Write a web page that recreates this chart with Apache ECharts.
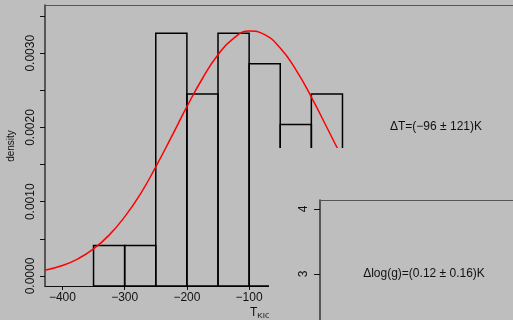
<!DOCTYPE html>
<html>
<head>
<meta charset="utf-8">
<script src="https://cdn.jsdelivr.net/npm/echarts@6/dist/echarts.min.js"></script>
<style>
html, body { margin: 0; padding: 0; background: #bebebe; }
#chart { width: 513px; height: 320px; }
</style>
</head>
<body>
<div id="chart"></div>
<script>
// histogram bins and their densities
const binStart = [-350, -300, -250, -200, -150, -100, -50, 0];
const binEnd = [-300, -250, -200, -150, -100, -50, 0, 50];
const density = [0.00041, 0.00041, 0.00327, 0.00245, 0.00327, 0.00286, 0.00204, 0.00245];

// fitted curve
const curveX = [-428, -400, -375, -350, -325, -300, -275, -250, -225, -200, -175, -150, -125, -100, -75, -50, -25, 0, 25, 50, 75];
const curveY = [0.000077, 0.000141, 0.000231, 0.000364, 0.00055, 0.000796, 0.0011, 0.00147, 0.00187, 0.00228, 0.00266, 0.00298, 0.0032, 0.0033, 0.00325, 0.00307, 0.00278, 0.00241, 0.002, 0.00159, 0.00122];

const xTicks = [-400, -300, -200, -100];
const yTicks = [0, 0.0005, 0.001, 0.0015, 0.002, 0.0025, 0.003, 0.0035];
const yLabels = [0, 0.001, 0.002, 0.003];
const loggTicks = [3, 4];

const font = '"Liberation Sans", Arial, sans-serif';
const bg = '#bebebe';
const yMin = -0.000135;
const lineCol = '#333';
const tickCol = '#111';

const frameOnly = {
  splitLine: { show: false },
  axisLine: { show: true, onZero: false, lineStyle: { color: '#555', width: 1 } },
  axisTick: { show: false },
  axisLabel: { show: false }
};

const chart = echarts.init(document.getElementById('chart'));

chart.setOption({
  backgroundColor: bg,
  animation: false,
  textStyle: { fontFamily: font },
  grid: [
    { left: 45, top: 5, width: 468, height: 281 },
    { left: 320, top: 200, width: 193, height: 120 }
  ],
  xAxis: [
    {
      type: 'value', gridIndex: 0, min: -428, max: 324,
      splitLine: { show: false },
      axisLine: { show: true, onZero: false, lineStyle: { color: tickCol, width: 1 } },
      axisTick: { show: true, customValues: xTicks, length: 4, lineStyle: { color: tickCol } },
      axisLabel: {
        customValues: xTicks, margin: 6, color: '#111', fontSize: 12, fontFamily: font,
        formatter: v => String(v).replace('-', '\u2212')
      }
    },
    Object.assign({ type: 'value', gridIndex: 0, min: 0, max: 1, position: 'top' }, frameOnly),
    Object.assign({ type: 'value', gridIndex: 1, min: 0, max: 1, position: 'top', z: 60 }, frameOnly)
  ],
  yAxis: [
    {
      type: 'value', gridIndex: 0, min: yMin, max: 0.00365,
      splitLine: { show: false },
      axisLine: { show: true, onZero: false, lineStyle: { color: lineCol, width: 1.5 } },
      axisTick: { show: true, customValues: yTicks, length: 5, lineStyle: { color: tickCol } },
      axisLabel: {
        customValues: yLabels, rotate: 90, margin: 8, color: '#111', fontSize: 12, fontFamily: font,
        formatter: v => v.toFixed(4)
      }
    },
    {
      type: 'value', gridIndex: 1, min: 2.2923, max: 4.1385, z: 60,
      splitLine: { show: false },
      axisLine: { show: true, onZero: false, lineStyle: { color: lineCol, width: 1.5 } },
      axisTick: { show: true, customValues: loggTicks, length: 6, lineStyle: { color: tickCol } },
      axisLabel: { customValues: loggTicks, rotate: 90, margin: 10, color: '#111', fontSize: 12, fontFamily: font }
    }
  ],
  series: [
    {
      type: 'custom',
      xAxisIndex: 0, yAxisIndex: 0,
      data: binStart.map((s, i) => [s, binEnd[i], density[i]]),
      encode: { x: [0, 1], y: 2 },
      renderItem: function (params, api) {
        const p0 = api.coord([api.value(0), yMin]);
        const p1 = api.coord([api.value(1), api.value(2)]);
        return {
          type: 'rect',
          shape: { x: p0[0], y: p1[1], width: p1[0] - p0[0], height: p0[1] - p1[1] },
          style: { fill: 'none', stroke: '#000', lineWidth: 1.5 }
        };
      }
    },
    {
      type: 'line',
      xAxisIndex: 0, yAxisIndex: 0,
      data: curveX.map((x, i) => [x, curveY[i]]),
      smooth: true,
      showSymbol: false,
      lineStyle: { color: '#ff0000', width: 1.5 },
      z: 3
    }
  ],
  graphic: {
    elements: [
      {
        type: 'text', x: 11, y: 146, rotation: Math.PI / 2, z: 10,
        style: { text: 'density', font: '10px ' + font, fill: '#111', align: 'center', verticalAlign: 'middle' }
      },
      {
        type: 'text', x: 250, y: 306, z: 10,
        style: {
          text: '{t|T}{s|KIC}', fill: '#111',
          rich: {
            t: { fontSize: 12, fontFamily: font, fill: '#111' },
            s: { fontSize: 8, fontFamily: font, fill: '#111', padding: [6, 0, 0, 0] }
          }
        }
      },
      {
        type: 'rect', z: 50,
        shape: { x: 269, y: 148, width: 244, height: 172 },
        style: { fill: bg }
      },
      {
        type: 'text', x: 436, y: 127, z: 70,
        style: { text: '\u0394T=(\u221296 \u00b1 121)K', font: '12px ' + font, fill: '#111', align: 'center', verticalAlign: 'middle' }
      },
      {
        type: 'text', x: 424, y: 274, z: 70,
        style: { text: '\u0394log(g)=(0.12 \u00b1 0.16)K', font: '12px ' + font, fill: '#111', align: 'center', verticalAlign: 'middle' }
      }
    ]
  }
});
</script>
</body>
</html>
